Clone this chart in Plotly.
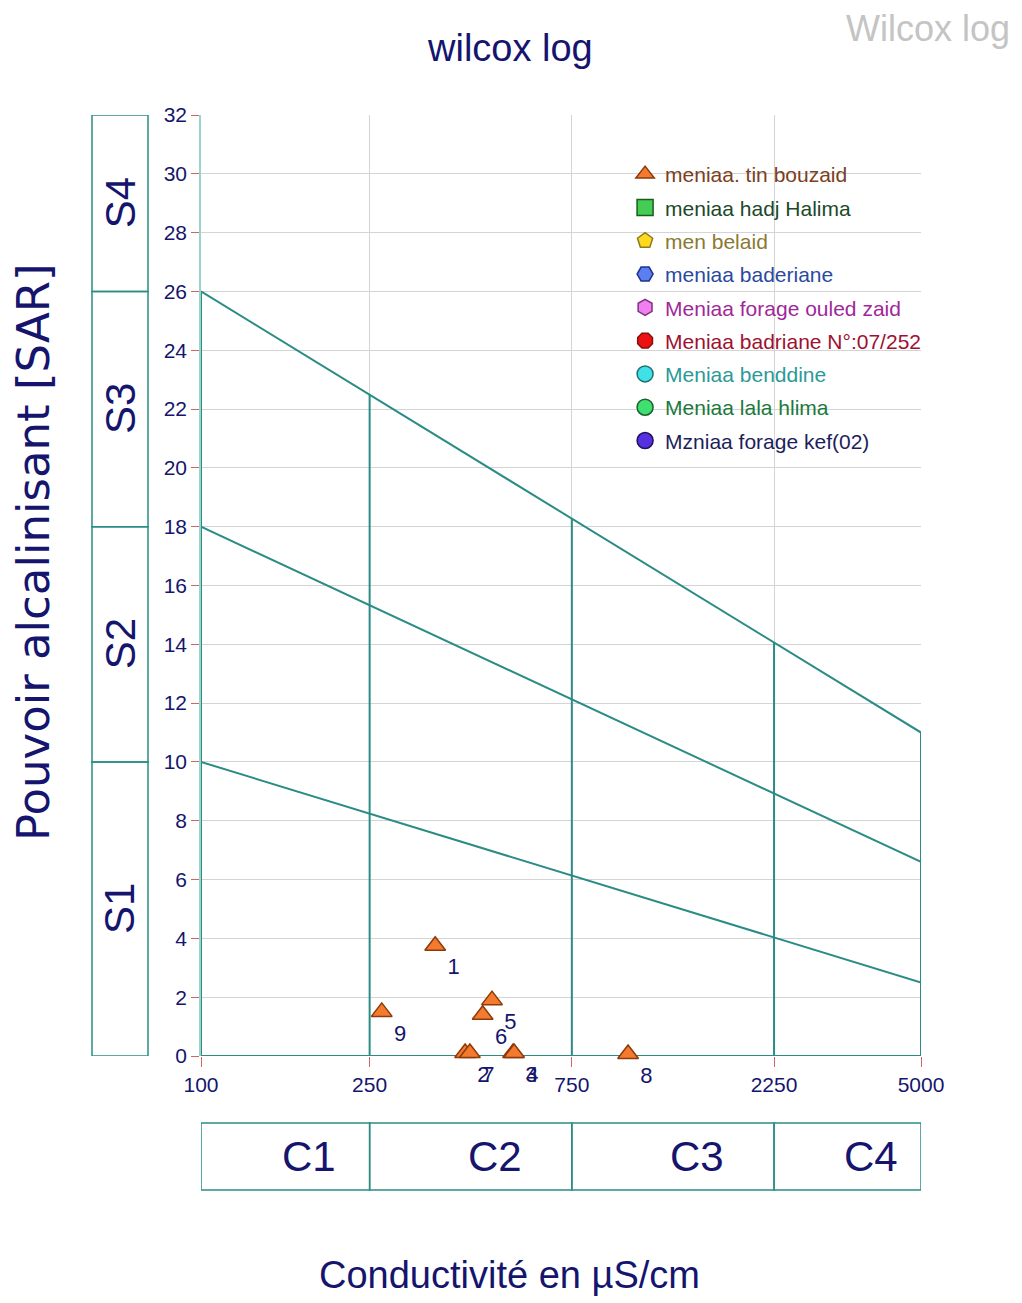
import numpy as np
import plotly.graph_objects as go

# ---------------- data ----------------
sample_labels = ["1", "2", "3", "4", "5", "6", "7", "8", "9"]
conductivity = [357, 420, 545, 548, 486, 462, 431, 1018, 267]
sar_values = [3.75, 0.1, 0.1, 0.1, 1.9, 1.4, 0.1, 0.07, 1.5]

series_names = [
    "meniaa. tin bouzaid",
    "meniaa hadj Halima",
    "men belaid",
    "meniaa baderiane",
    "Meniaa forage ouled zaid",
    "Meniaa badriane N°:07/252",
    "Meniaa benddine",
    "Meniaa lala hlima",
    "Mzniaa forage kef(02)",
]

c_bounds = [100, 250, 750, 2250, 5000]
c_labels = ["C1", "C2", "C3", "C4"]
x_tick_labels = ["100", "250", "750", "2250", "5000"]

s_bounds = [0, 10, 18, 26, 32]
s_labels = ["S1", "S2", "S3", "S4"]

# SAR class boundary lines: value at 100 µS/cm and at 5000 µS/cm
sar_line_left = [10, 18, 26]
sar_line_right = [2.5, 6.6, 11.0]

# ---------------- styles ----------------
NAVY = "#15156e"
TEAL = "#2b8c85"
FONT = "Liberation Sans, Arial"

symbols = ["triangle-up", "square", "pentagon", "hexagon2", "hexagon",
           "octagon", "circle", "circle", "circle"]
fills = ["#f47a30", "#44cc55", "#ffd820", "#5b7ff0", "#f080f0",
         "#ee1111", "#40e0e8", "#40e070", "#5530e0"]
edges = ["#8b3a0a", "#1a5c1a", "#8a7a20", "#223388", "#803080",
         "#801010", "#207070", "#1a6030", "#20105a"]
text_cols = ["#7a4020", "#1a4a2a", "#8a7a30", "#2a4aa0", "#a0289a",
             "#a01030", "#2a9a98", "#1a7a3a", "#1e1e5a"]

fig = go.Figure()

# boundary lines (diagonals)
lx0, lx1 = np.log10(c_bounds[0]), np.log10(c_bounds[-1])
for yl, yr in zip(sar_line_left, sar_line_right):
    fig.add_trace(go.Scatter(x=[c_bounds[0], c_bounds[-1]], y=[yl, yr], mode="lines",
                             line=dict(color=TEAL, width=2), showlegend=False,
                             hoverinfo="skip"))

# verticals up to top line
top_l, top_r = sar_line_left[-1], sar_line_right[-1]
for xb in c_bounds:
    if xb == c_bounds[0]:
        ytop = top_l
    elif xb == c_bounds[-1]:
        ytop = top_r
    else:
        ytop = float(np.interp(np.log10(xb), [lx0, lx1], [top_l, top_r]))
    fig.add_trace(go.Scatter(x=[xb, xb], y=[0, ytop], mode="lines",
                             line=dict(color=TEAL, width=2), showlegend=False,
                             hoverinfo="skip"))
# bottom line
fig.add_trace(go.Scatter(x=[c_bounds[0], c_bounds[-1]], y=[0, 0], mode="lines",
                         line=dict(color=TEAL, width=2), showlegend=False,
                         hoverinfo="skip"))

# series (only the first has data)
for i, name in enumerate(series_names):
    legend_name = "<span style='color:%s'>%s</span>" % (text_cols[i], name)
    if i == 0:
        fig.add_trace(go.Scatter(
            x=conductivity, y=sar_values, mode="markers+text", name=legend_name,
            legendgroup="g%d" % i, cliponaxis=False,
            text=sample_labels, textposition="bottom right",
            textfont=dict(family=FONT, size=22, color=NAVY),
            marker=dict(symbol=symbols[i], size=18, color=fills[i],
                        line=dict(color=edges[i], width=1.5)),
        ))
    else:
        fig.add_trace(go.Scatter(
            x=[None], y=[None], mode="markers", name=legend_name,
            legendgroup="g%d" % i,
            marker=dict(symbol=symbols[i], size=16, color=fills[i],
                        line=dict(color=edges[i], width=1.5)),
        ))

shapes = []
annotations = []

# S boxes on the left
sx0, sx1 = -0.1514, -0.0736
for k, lab in enumerate(s_labels):
    shapes.append(dict(type="rect", xref="paper", yref="y", x0=sx0, x1=sx1,
                       y0=s_bounds[k], y1=s_bounds[k + 1],
                       line=dict(color=TEAL, width=1.5)))
    annotations.append(dict(xref="paper", yref="y", x=(sx0 + sx1) / 2,
                            y=(s_bounds[k] + s_bounds[k + 1]) / 2, text=lab,
                            textangle=-90, showarrow=False,
                            xanchor="center", yanchor="middle",
                            font=dict(family=FONT, size=42, color=NAVY)))

# C boxes at the bottom
cy0, cy1 = -0.1424, -0.0712
span = lx1 - lx0
for k, lab in enumerate(c_labels):
    shapes.append(dict(type="rect", xref="x", yref="paper",
                       x0=c_bounds[k], x1=c_bounds[k + 1], y0=cy0, y1=cy1,
                       line=dict(color=TEAL, width=1.5)))
    cx = ((np.log10(c_bounds[k]) + np.log10(c_bounds[k + 1])) / 2 - lx0) / span + 0.033
    annotations.append(dict(xref="paper", yref="paper", x=cx, y=(cy0 + cy1) / 2,
                            text=lab, showarrow=False,
                            xanchor="center", yanchor="middle",
                            font=dict(family=FONT, size=42, color=NAVY)))

# titles
annotations.append(dict(xref="paper", yref="paper", x=0.429, y=1.0712, text="wilcox log",
                        xanchor="center", yanchor="middle",
                        showarrow=False, font=dict(family=FONT, size=38, color=NAVY)))
annotations.append(dict(xref="paper", yref="paper", x=1.0097, y=1.0924, text="Wilcox log",
                        xanchor="center", yanchor="middle",
                        showarrow=False, font=dict(family=FONT, size=36, color="#c4c4c4")))
annotations.append(dict(xref="paper", yref="paper", x=-0.2333, y=0.5356,
                        text="Pouvoir alcalinisant [SAR]", textangle=-90, showarrow=False,
                        xanchor="center", yanchor="middle",
                        font=dict(family="DejaVu Sans, " + FONT, size=45, color=NAVY)))
annotations.append(dict(xref="paper", yref="paper", x=0.429, y=-0.2327,
                        text="Conductivité en µS/cm", showarrow=False,
                        xanchor="center", yanchor="middle",
                        font=dict(family=FONT, size=38, color=NAVY)))

fig.update_layout(
    width=1014, height=1295,
    margin=dict(l=193, r=101, t=107, b=247),
    paper_bgcolor="white", plot_bgcolor="white",
    shapes=shapes, annotations=annotations,
    showlegend=True,
    legend=dict(x=0.589, y=0.9586, xanchor="left", yanchor="top",
                bgcolor="rgba(0,0,0,0)", font=dict(family=FONT, size=21),
                traceorder="grouped", tracegroupgap=3, itemsizing="trace"),
    xaxis=dict(type="log", range=[lx0, lx1], tickvals=c_bounds, ticktext=x_tick_labels,
               showgrid=True, gridcolor="#d4d4d4", gridwidth=1,
               ticks="outside", ticklen=10, tickcolor="#cc6666",
               tickfont=dict(family=FONT, size=21, color=NAVY),
               showline=False, zeroline=False),
    yaxis=dict(range=[0, 32], dtick=2, tick0=0,
               showgrid=True, gridcolor="#d4d4d4", gridwidth=1,
               ticks="outside", ticklen=8, tickcolor="#cc6666",
               tickfont=dict(family=FONT, size=21, color=NAVY),
               showline=True, linecolor="#9ad4cc", linewidth=1.5, zeroline=False),
)

fig.write_html("out.html")
